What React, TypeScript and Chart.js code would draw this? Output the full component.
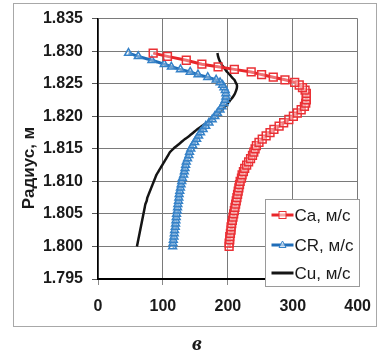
import React, { useEffect, useRef } from 'react';
import { Chart, registerables } from 'chart.js';

Chart.register(...registerables);

// Radius positions (m)
const radii = [
  1.8000, 1.8005, 1.8010, 1.8015, 1.8020, 1.8025, 1.8030, 1.8035, 1.8040, 1.8045,
  1.8050, 1.8055, 1.8060, 1.8065, 1.8070, 1.8075, 1.8080, 1.8085, 1.8090, 1.8095,
  1.8100, 1.8105, 1.8110, 1.8115, 1.8120, 1.8125, 1.8130, 1.8135, 1.8140, 1.8145,
  1.8150, 1.8155, 1.8160, 1.8165, 1.8170, 1.8175, 1.8180, 1.8185, 1.8190, 1.8195,
  1.8200, 1.8205, 1.8210, 1.8215, 1.8220, 1.8225, 1.8230, 1.8235, 1.8240, 1.8244,
  1.8248, 1.8252, 1.8256, 1.8260, 1.8264, 1.8268, 1.8272, 1.8276, 1.8280, 1.8286,
  1.8292, 1.8297,
];

// Ca, m/s
const caValues = [
  202, 202, 203, 203, 204, 205, 205, 206, 207, 208,
  209, 210, 211, 212, 213, 214, 215, 216, 217, 218,
  219, 221, 222, 224, 226, 229, 232, 235, 238, 240,
  242, 244, 248, 253, 259, 265, 271, 279, 286, 294,
  301, 307, 313, 318, 320, 321, 321, 321, 319, 315,
  310, 303, 288, 270, 252, 236, 210, 185, 160, 136,
  107, 85,
];

// CR, m/s
const crValues = [
  115, 115.5, 116, 117, 117.5, 118, 119, 119.5, 120, 120.5,
  121, 122, 122.5, 123, 124, 124.5, 125, 126, 127, 128,
  129, 130, 132, 133, 134, 135, 136, 138, 140, 141,
  143, 146, 149, 152, 155, 158, 162, 166, 171, 176,
  180, 184, 188, 191, 194, 196, 197, 197, 196, 194,
  192, 188, 182, 169, 154, 142, 127, 113, 102, 83,
  62, 47,
];

// Cu, m/s
const cuValues = [
  60, 61, 62, 63, 64, 65, 66, 67, 68, 69,
  70, 71, 72, 73, 75, 76, 78, 80, 82, 84,
  86, 88, 90, 93, 96, 99, 102, 105, 108, 111,
  116, 122, 128, 134, 141, 147, 153, 160, 168, 175,
  181, 186, 191, 196, 200, 204, 208, 211, 213, 214,
  214, 212, 210, 206, 203, 199, 196, 193, 190, 187,
  185, 184,
];

const seriesLabels = ['Ca, м/с', 'CR, м/с', 'Cu, м/с'];
const yAxisTitle = 'Радиус, м';
const panelLabel = 'в';
const xMin = 0;
const xMax = 400;
const xStep = 100;
const yMin = 1.795;
const yMax = 1.835;
const yStep = 0.005;

const RED = '#e8262a';
const RED_MARK = '#ea3035';
const BLUE = '#1f6db8';
const BLUE_MARK = '#3682c8';
const BLACK = '#151515';

const toPoints = (vals: number[]) => vals.map((v, i) => ({ x: v, y: radii[i] }));

const decorPlugin = {
  id: 'decor',
  beforeDraw(chart: any) {
    const ctx = chart.ctx as CanvasRenderingContext2D;
    ctx.save();
    ctx.fillStyle = '#ffffff';
    ctx.fillRect(0, 0, chart.width, chart.height);
    ctx.strokeStyle = '#a8a8a8';
    ctx.lineWidth = 1;
    ctx.strokeRect(13.5, 3.5, 363, 323);
    ctx.restore();
  },
  afterDraw(chart: any) {
    const ctx = chart.ctx as CanvasRenderingContext2D;
    const area = chart.chartArea;
    ctx.save();
    // Y axis title
    ctx.translate(29, 168);
    ctx.rotate(-Math.PI / 2);
    ctx.fillStyle = '#1a1a1a';
    ctx.font = 'bold 17px "Liberation Sans", Arial, sans-serif';
    ctx.textAlign = 'center';
    ctx.textBaseline = 'middle';
    ctx.fillText(yAxisTitle, 0, 0);
    ctx.restore();

    // panel label
    ctx.save();
    ctx.fillStyle = '#1a1a1a';
    ctx.font = 'italic bold 22px "Liberation Serif", "DejaVu Serif", serif';
    ctx.textAlign = 'center';
    ctx.textBaseline = 'middle';
    ctx.fillText(panelLabel, 197, 344);
    ctx.restore();

    // legend
    const bw = 94;
    const bh = 87;
    const bx = Math.round(area.right - bw + 1) + 0.5;
    const by = Math.round(area.bottom - 80) + 0.5;
    ctx.save();
    ctx.fillStyle = '#ffffff';
    ctx.fillRect(bx, by, bw, bh);
    ctx.strokeStyle = '#9a9a9a';
    ctx.lineWidth = 1;
    ctx.strokeRect(bx, by, bw, bh);
    const rows = [by + 15.5, by + 45.5, by + 73.5];
    const colors = [RED, BLUE, BLACK];
    const marks = [RED_MARK, BLUE_MARK, null];
    const styles = ['rect', 'triangle', null];
    rows.forEach((ry, i) => {
      const x0 = bx + 6;
      const x1 = bx + 28;
      ctx.strokeStyle = colors[i];
      ctx.lineWidth = 3;
      ctx.beginPath();
      ctx.moveTo(x0, ry);
      ctx.lineTo(x1, ry);
      ctx.stroke();
      const cx = (x0 + x1) / 2;
      if (styles[i] === 'rect') {
        ctx.fillStyle = 'rgba(255,255,255,0.6)';
        ctx.fillRect(cx - 3.5, ry - 3.5, 7, 7);
        ctx.strokeStyle = marks[i] as string;
        ctx.lineWidth = 1;
        ctx.strokeRect(cx - 3.5, ry - 3.5, 7, 7);
      } else if (styles[i] === 'triangle') {
        ctx.beginPath();
        ctx.moveTo(cx, ry - 4);
        ctx.lineTo(cx + 3.5, ry + 2.5);
        ctx.lineTo(cx - 3.5, ry + 2.5);
        ctx.closePath();
        ctx.fillStyle = 'rgba(255,255,255,0.6)';
        ctx.fill();
        ctx.strokeStyle = marks[i] as string;
        ctx.lineWidth = 1;
        ctx.stroke();
      }
      ctx.fillStyle = '#1a1a1a';
      ctx.font = '17px "Liberation Sans", Arial, sans-serif';
      ctx.textAlign = 'left';
      ctx.textBaseline = 'middle';
      ctx.fillText(seriesLabels[i], x1 + 1, ry + 1);
    });
    ctx.restore();
  },
};

export default function App() {
  const canvasRef = useRef<HTMLCanvasElement | null>(null);

  useEffect(() => {
    const canvas = canvasRef.current;
    if (!canvas) return;
    const tickFont = { family: '"Liberation Sans", Arial, sans-serif', size: 16, weight: 'bold' as const };
    const chart = new Chart(canvas, {
      type: 'scatter',
      data: {
        datasets: [
          {
            label: seriesLabels[0],
            data: toPoints(caValues),
            showLine: true,
            borderColor: RED,
            borderWidth: 3,
            pointStyle: 'rect',
            pointRadius: 5.5,
            pointBorderWidth: 1.5,
            pointBorderColor: RED_MARK,
            pointBackgroundColor: 'rgba(255,255,255,0.35)',
            tension: 0,
          },
          {
            label: seriesLabels[1],
            data: toPoints(crValues),
            showLine: true,
            borderColor: BLUE,
            borderWidth: 3,
            pointStyle: 'triangle',
            pointRadius: 4.5,
            pointBorderWidth: 1.5,
            pointBorderColor: BLUE_MARK,
            pointBackgroundColor: 'rgba(255,255,255,0.35)',
            tension: 0,
          },
          {
            label: seriesLabels[2],
            data: toPoints(cuValues),
            showLine: true,
            borderColor: BLACK,
            borderWidth: 2.5,
            pointRadius: 0,
            tension: 0.3,
          },
        ],
      },
      options: {
        responsive: false,
        animation: false,
        events: [],
        layout: { padding: { left: 0, right: 21, top: 15, bottom: 17 } },
        plugins: {
          legend: { display: false },
          tooltip: { enabled: false },
          title: { display: false },
        },
        scales: {
          x: {
            type: 'linear',
            min: xMin,
            max: xMax,
            afterFit: (s: any) => { s.height = 60; },
            ticks: {
              stepSize: xStep,
              font: tickFont,
              color: '#1a1a1a',
              padding: 12,
              maxRotation: 0,
            },
            grid: { color: '#7a7a7a', lineWidth: 1, tickLength: 6, tickColor: '#8a8a8a' },
            border: { color: '#000000', width: 2 },
          },
          y: {
            type: 'linear',
            min: yMin,
            max: yMax,
            afterFit: (s: any) => { s.width = 98; },
            ticks: {
              stepSize: yStep,
              font: tickFont,
              color: '#1a1a1a',
              padding: 9,
              callback: (v: any) => Number(v).toFixed(3),
            },
            grid: { color: '#7a7a7a', lineWidth: 1, tickLength: 6, tickColor: '#555555' },
            border: { color: '#000000', width: 1.5 },
          },
        },
      },
      plugins: [decorPlugin],
    });
    return () => chart.destroy();
  }, []);

  return (
    <div style={{ position: 'absolute', left: 0, top: 0, width: 383, height: 356, background: '#fff' }}>
      <canvas ref={canvasRef} width={383} height={356} style={{ width: 383, height: 356, display: 'block' }} />
    </div>
  );
}
